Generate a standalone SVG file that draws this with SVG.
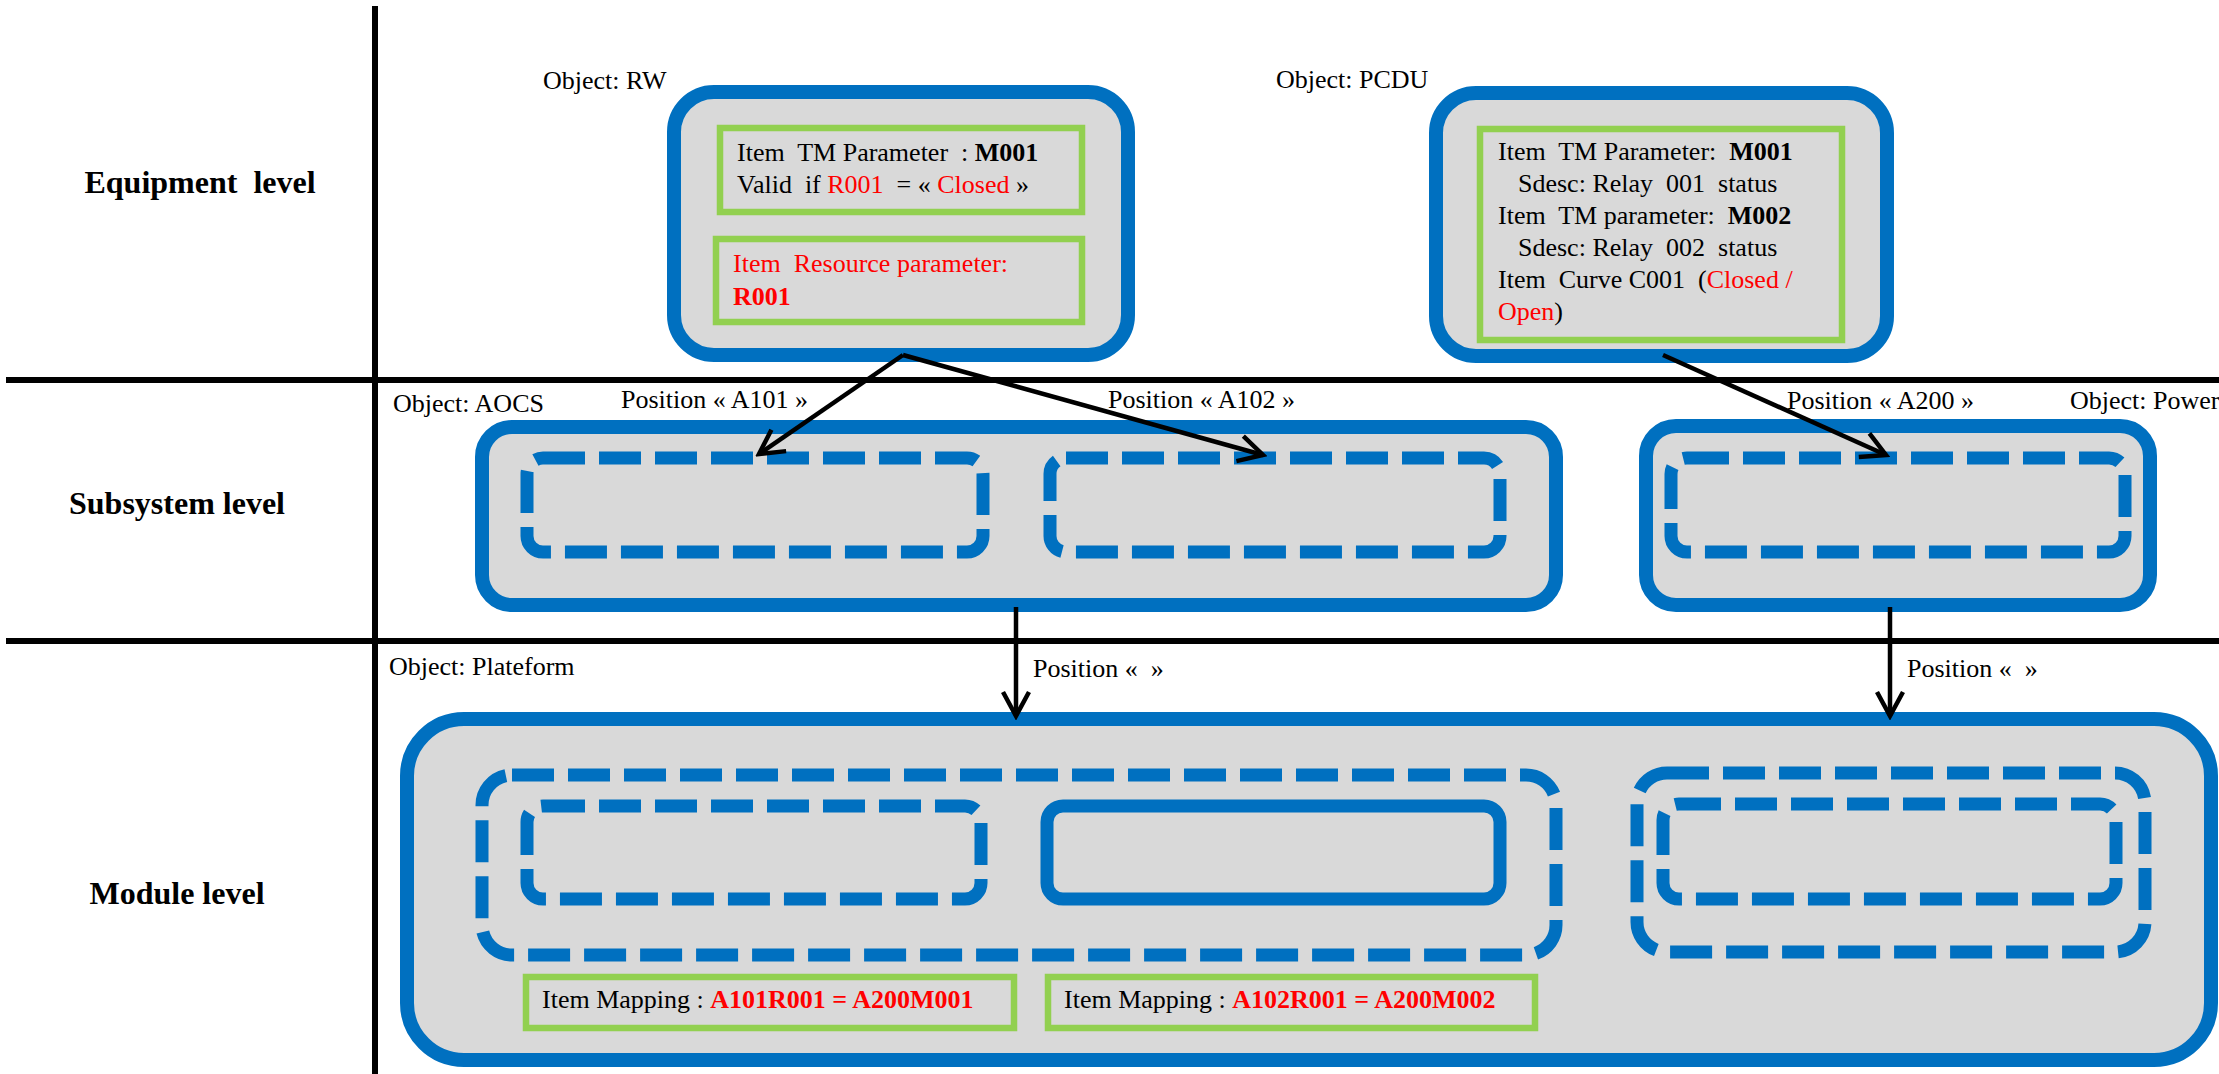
<svg xmlns="http://www.w3.org/2000/svg" width="2219" height="1074" viewBox="0 0 2219 1074">
  <style>
    .t { font-family: "Liberation Serif", "Times New Roman", serif; font-size: 26px; fill: #000; white-space: pre; }
    .b { font-weight: bold; }
    .r { fill: #FF0000; }
    .lvl { font-family: "Liberation Serif", "Times New Roman", serif; font-size: 32px; font-weight: bold; fill: #000; text-anchor: middle; white-space: pre; }
    .obj { fill: #D9D9D9; stroke: #0070C0; stroke-width: 14; }
    .slot { fill: none; stroke: #0070C0; stroke-width: 13; stroke-dasharray: 42 14; }
    .slotSolid { fill: none; stroke: #0070C0; stroke-width: 13; }
    .item { fill: none; stroke: #92D050; stroke-width: 6.5; }
    .sep { stroke: #000; stroke-width: 6; fill: none; }
    .link { stroke: #000; stroke-width: 4.5; fill: none; marker-end: url(#arrow); }
  </style>
  <defs>
    <marker id="arrow" markerUnits="userSpaceOnUse" viewBox="-30 -18 34 36" refX="0" refY="0" markerWidth="34" markerHeight="36" orient="auto">
      <path d="M-24,-13 L0,0 L-24,13" fill="none" stroke="#000" stroke-width="4.5"/>
    </marker>
  </defs>

  <rect x="0" y="0" width="2219" height="1074" fill="#FFFFFF"/>

  <!-- level grid -->
  <g id="grid">
    <line class="sep" x1="375" y1="6" x2="375" y2="1074"/>
    <line class="sep" x1="6" y1="380" x2="2219" y2="380"/>
    <line class="sep" x1="6" y1="641" x2="2219" y2="641"/>
    <text class="lvl" x="200" y="193">Equipment  level</text>
    <text class="lvl" x="177" y="514">Subsystem level</text>
    <text class="lvl" x="177" y="904">Module level</text>
  </g>

  <!-- equipment level -->
  <g id="rw">
    <text class="t" x="543" y="89">Object: RW</text>
    <rect class="obj" x="674" y="92" width="454" height="263" rx="40"/>
    <rect class="item" x="720" y="128" width="362" height="84"/>
    <text class="t" x="737" y="161">Item  TM Parameter  : <tspan class="b">M001</tspan></text>
    <text class="t" x="737" y="193">Valid  if <tspan class="r">R001</tspan>  = « <tspan class="r">Closed</tspan> »</text>
    <rect class="item" x="716" y="239" width="366" height="83"/>
    <text class="t r" x="733" y="272">Item  Resource parameter:</text>
    <text class="t r b" x="733" y="305">R001</text>
  </g>

  <g id="pcdu">
    <text class="t" x="1276" y="88">Object: PCDU</text>
    <rect class="obj" x="1436" y="93" width="451" height="263" rx="40"/>
    <rect class="item" x="1480" y="129" width="362" height="211"/>
    <text class="t" x="1498" y="160">Item  TM Parameter:  <tspan class="b">M001</tspan></text>
    <text class="t" x="1518" y="192">Sdesc: Relay  001  status</text>
    <text class="t" x="1498" y="224">Item  TM parameter:  <tspan class="b">M002</tspan></text>
    <text class="t" x="1518" y="256">Sdesc: Relay  002  status</text>
    <text class="t" x="1498" y="288">Item  Curve C001  (<tspan class="r">Closed /</tspan></text>
    <text class="t" x="1498" y="320"><tspan class="r">Open</tspan>)</text>
  </g>

  <!-- subsystem level -->
  <g id="aocs">
    <text class="t" x="393" y="412">Object: AOCS</text>
    <text class="t" x="621" y="408">Position « A101 »</text>
    <text class="t" x="1108" y="408">Position « A102 »</text>
    <rect class="obj" x="482" y="427" width="1074" height="178" rx="30"/>
    <rect class="slot" x="527" y="458" width="456" height="94" rx="16"/>
    <rect class="slot" x="1050" y="458" width="450" height="94" rx="16"/>
  </g>

  <g id="power">
    <text class="t" x="1787" y="409">Position « A200 »</text>
    <text class="t" x="2070" y="409">Object: Power</text>
    <rect class="obj" x="1646" y="426" width="504" height="179" rx="30"/>
    <rect class="slot" x="1671" y="458" width="454" height="94" rx="16"/>
  </g>

  <!-- module level -->
  <g id="plateform">
    <text class="t" x="389" y="675">Object: Plateform</text>
    <text class="t" x="1033" y="677">Position «  »</text>
    <text class="t" x="1907" y="677">Position «  »</text>
    <rect class="obj" x="407" y="719" width="1804" height="341" rx="57"/>
    <rect class="slot" x="482" y="775" width="1074" height="180" rx="30"/>
    <rect class="slot" x="527" y="806" width="454" height="93" rx="16"/>
    <rect class="slotSolid" x="1047" y="806" width="453" height="93" rx="16"/>
    <rect class="slot" x="1637" y="773" width="508" height="179" rx="30"/>
    <rect class="slot" x="1663" y="804" width="453" height="95" rx="16"/>
    <rect class="item" x="526" y="977" width="488" height="51"/>
    <text class="t" x="542" y="1008">Item Mapping : <tspan class="r b">A101R001 = A200M001</tspan></text>
    <rect class="item" x="1048" y="977" width="487" height="51"/>
    <text class="t" x="1064" y="1008">Item Mapping : <tspan class="r b">A102R001 = A200M002</tspan></text>
  </g>

  <!-- connectors -->
  <g id="connectors">
    <line class="link" x1="903" y1="355" x2="759" y2="454"/>
    <line class="link" x1="903" y1="355" x2="1263" y2="455"/>
    <line class="link" x1="1663" y1="355" x2="1886" y2="455"/>
    <line class="link" x1="1016" y1="607" x2="1016" y2="716"/>
    <line class="link" x1="1890" y1="607" x2="1890" y2="716"/>
  </g>
</svg>
